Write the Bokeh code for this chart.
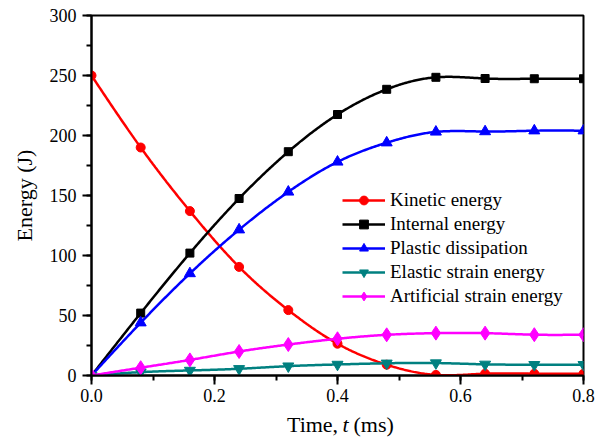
import numpy as np
from bokeh.plotting import figure
from bokeh.models import Range1d, FixedTicker, Legend, LegendItem
from bokeh.core.properties import value
from bokeh.embed import file_html
from bokeh.resources import INLINE

# ---- data ----
time_ms = [0.0, 0.08, 0.16, 0.24, 0.32, 0.40, 0.48, 0.56, 0.64, 0.72, 0.80]
kinetic = [250, 190, 137, 90.5, 54.5, 26.5, 9, 0.5, 1.5, 1.5, 1.5]
internal = [0, 52, 102, 147.5, 186.5, 217.5, 238.5, 248.5, 247.5, 247.3, 247.3]
plastic = [0, 44, 85, 121.5, 153, 178, 194, 203, 203.3, 204, 204]
elastic = [0, 2.8, 4.2, 5.6, 7.8, 9.2, 10.2, 10.4, 9.3, 9, 9]
artificial = [0, 6.5, 13, 20, 25.8, 30.6, 33.9, 35.3, 35.3, 34, 34]

series_names = ["Kinetic energy", "Internal energy", "Plastic dissipation",
                "Elastic strain energy", "Artificial strain energy"]
x_ticks = [0.0, 0.2, 0.4, 0.6, 0.8]
x_minor = [0.0, 0.1, 0.2, 0.3, 0.4, 0.5, 0.6, 0.7, 0.8]
y_ticks = [0, 50, 100, 150, 200, 250, 300]
y_minor = [0, 25, 50, 75, 100, 125, 150, 175, 200, 225, 250, 275, 300]
x_title_parts = ["Time,", "t", "(ms)"]

FONT = "Liberation Serif"


def natural_spline(x, y, n=40):
    x = np.asarray(x, float)
    y = np.asarray(y, float)
    k = len(x)
    h = np.diff(x)
    A = np.zeros((k, k))
    b = np.zeros(k)
    A[0, 0] = A[-1, -1] = 1
    for i in range(1, k - 1):
        A[i, i - 1] = h[i - 1]
        A[i, i] = 2 * (h[i - 1] + h[i])
        A[i, i + 1] = h[i]
        b[i] = 3 * ((y[i + 1] - y[i]) / h[i] - (y[i] - y[i - 1]) / h[i - 1])
    c = np.linalg.solve(A, b)
    xs, ys = [], []
    for i in range(k - 1):
        t = np.linspace(0, h[i], n, endpoint=(i == k - 2))
        bi = (y[i + 1] - y[i]) / h[i] - h[i] * (2 * c[i] + c[i + 1]) / 3
        di = (c[i + 1] - c[i]) / (3 * h[i])
        xs.append(x[i] + t)
        ys.append(y[i] + bi * t + c[i] * t ** 2 + di * t ** 3)
    return np.concatenate(xs), np.concatenate(ys)


p = figure(width=603, height=437, output_backend="svg", toolbar_location=None,
           x_range=Range1d(0, 0.8), y_range=Range1d(0, 300),
           min_border_left=91, min_border_right=20, min_border_top=15,
           min_border_bottom=62)
p.grid.visible = False
p.outline_line_color = "black"
p.outline_line_width = 2
p.background_fill_color = "white"
p.border_fill_color = "white"

for ax, ticks, minor in ((p.xaxis[0], x_ticks, x_minor), (p.yaxis[0], y_ticks, y_minor)):
    ax.ticker = FixedTicker(ticks=ticks, minor_ticks=minor)
    ax.axis_line_width = 2
    ax.major_tick_line_width = 2
    ax.minor_tick_line_width = 2
    ax.major_tick_out = 9
    ax.major_tick_in = 0
    ax.minor_tick_out = 5
    ax.minor_tick_in = 0
    ax.major_label_text_font = FONT
    ax.major_label_text_font_size = "18px"
    ax.major_label_text_color = "black"
    ax.axis_line_color = "black"
    ax.major_tick_line_color = "black"
    ax.minor_tick_line_color = "black"

p.xaxis[0].major_label_standoff = 4
p.yaxis[0].major_label_standoff = 6
p.xaxis[0].major_label_overrides = {0.0: "0.0", 0.2: "0.2", 0.4: "0.4", 0.6: "0.6", 0.8: "0.8"}

p.yaxis[0].axis_label = "Energy (J)"
p.yaxis[0].axis_label_text_font = FONT
p.yaxis[0].axis_label_text_font_size = "22px"
p.yaxis[0].axis_label_text_font_style = "normal"
p.yaxis[0].axis_label_text_color = "black"
p.yaxis[0].axis_label_standoff = 10

colors = ["#FF0000", "#000000", "#0000FF", "#008080", "#FF00FF"]
markers = ["circle", "square", "triangle", "inverted_triangle", "diamond"]
sizes = [9, 8, 11, 11, 14]
all_series = [kinetic, internal, plastic, elastic, artificial]

items = []
for name, ys, col, mk, sz in zip(series_names, all_series, colors, markers, sizes):
    sx, sy = natural_spline(time_ms, ys)
    lr = p.line(sx, sy, line_color=col, line_width=2.5)
    sr = p.scatter(time_ms, ys, marker=mk, size=sz,
                   fill_color=col, line_color=col, line_width=1)
    items.append(LegendItem(label=name, renderers=[lr, sr]))

legend = Legend(items=items, location=(251, 67), padding=0, margin=0, spacing=0,
                label_height=24, glyph_height=22, glyph_width=43, label_standoff=5,
                label_text_font=FONT, label_text_font_size="19px",
                label_text_color="black",
                border_line_alpha=0, background_fill_alpha=0)
p.add_layout(legend)

# x axis title "Time, t (ms)" with italic t, drawn as text below the frame
yb = -40.5
p.text(x=[0.401], y=[yb], text=[x_title_parts[0]], text_align="right", text_baseline="middle",
       text_font=value(FONT), text_font_size="22px", text_color="black", level="overlay")
p.text(x=[0.408], y=[yb], text=[x_title_parts[1]], text_align="left", text_baseline="middle",
       text_font=value(FONT), text_font_size="22px", text_font_style="italic",
       text_color="black", level="overlay")
p.text(x=[0.426], y=[yb], text=[x_title_parts[2]], text_align="left", text_baseline="middle",
       text_font=value(FONT), text_font_size="22px", text_color="black", level="overlay")

open("out.html", "w").write(file_html(p, INLINE))
